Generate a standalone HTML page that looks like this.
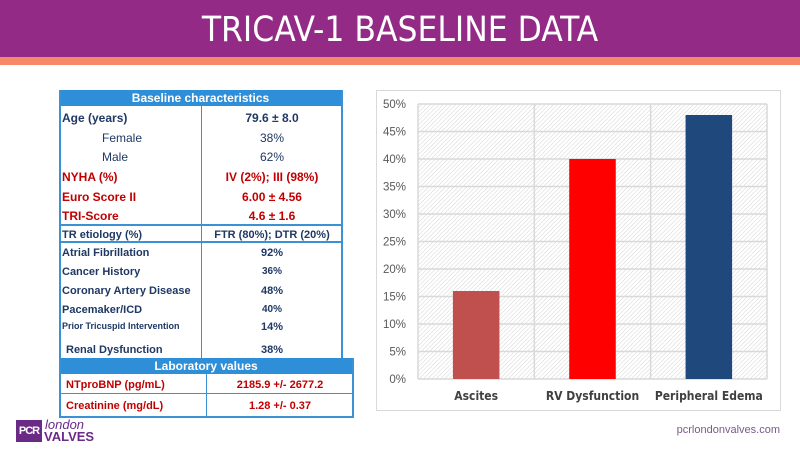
<!DOCTYPE html>
<html><head><meta charset="utf-8"><style>
body{margin:0;width:800px;height:450px;position:relative;background:#fff;font-family:"Liberation Sans",sans-serif;overflow:hidden}
.abs{position:absolute}
#hdr{left:0;top:0;width:800px;height:57px;background:#922A86}
#stripe{left:0;top:57px;width:800px;height:8px;background:#F68A68}
#title{left:0;top:2px;width:800px;height:57px;line-height:57px;text-align:center;color:#fff;font-size:35px;font-family:"DejaVu Sans Condensed","Liberation Sans Narrow","Liberation Sans",sans-serif}
.row{position:absolute;font-size:11px;font-weight:bold;color:#1F3864;white-space:nowrap}
.norm{font-weight:normal}
.v{position:absolute;font-size:11px;font-weight:bold;color:#1F3864;text-align:center;width:140px;left:202px}
.red{color:#C00000 !important}
.line{position:absolute;background:#3A92D6}
</style></head><body>
<div id="hdr" class="abs"></div>
<div id="stripe" class="abs"></div>
<div id="title" class="abs">TRICAV-1 BASELINE DATA</div>

<div>
<div class="abs" style="left:59px;top:90px;width:283px;height:16px;background:#2E8FD8;color:#fff;font-size:12px;font-weight:bold;text-align:center;line-height:16px">Baseline characteristics</div>
<div class="line" style="left:59px;top:90px;width:2px;height:268px"></div>
<div class="line" style="left:341px;top:90px;width:2px;height:268px"></div>
<div class="line" style="left:201px;top:106px;width:1px;height:252px"></div>
<div class="line" style="left:59px;top:224px;width:283px;height:2px"></div>
<div class="line" style="left:59px;top:241px;width:283px;height:2px"></div>

<div class="row" style="left:62px;top:111px;font-size:12px">Age (years)</div><div class="v" style="top:111px;font-size:12px">79.6 ± 8.0</div>
<div class="row norm" style="left:102px;top:131px;font-size:12px">Female</div><div class="v" style="top:131px;font-size:12px;font-weight:normal">38%</div>
<div class="row norm" style="left:102px;top:150px;font-size:12px">Male</div><div class="v" style="top:150px;font-size:12px;font-weight:normal">62%</div>
<div class="row red" style="left:62px;top:170px;font-size:12px">NYHA (%)</div><div class="v red" style="top:170px;font-size:12px">IV (2%); III (98%)</div>
<div class="row red" style="left:62px;top:190px;font-size:12px">Euro Score II</div><div class="v red" style="top:190px;font-size:12px">6.00 ± 4.56</div>
<div class="row red" style="left:62px;top:209px;font-size:12px">TRI-Score</div><div class="v red" style="top:209px;font-size:12px">4.6 ± 1.6</div>
<div class="row" style="left:62px;top:229px">TR etiology (%)</div><div class="v" style="top:229px">FTR (80%); DTR (20%)</div>
<div class="row" style="left:62px;top:247px">Atrial Fibrillation</div><div class="v" style="top:247px">92%</div>
<div class="row" style="left:62px;top:266px">Cancer History</div><div class="v" style="top:266px;font-size:10px">36%</div>
<div class="row" style="left:62px;top:285px">Coronary Artery Disease</div><div class="v" style="top:285px">48%</div>
<div class="row" style="left:62px;top:304px">Pacemaker/ICD</div><div class="v" style="top:304px;font-size:10px">40%</div>
<div class="row" style="left:62px;top:321px;font-size:9px">Prior Tricuspid Intervention</div><div class="v" style="top:321px">14%</div>
<div class="row" style="left:66px;top:344px">Renal Dysfunction</div><div class="v" style="top:344px">38%</div>

<div class="abs" style="left:59px;top:358px;width:294px;height:16px;background:#2E8FD8;color:#fff;font-size:12px;font-weight:bold;text-align:center;line-height:16px">Laboratory values</div>
<div class="line" style="left:59px;top:358px;width:2px;height:60px"></div>
<div class="line" style="left:352px;top:358px;width:2px;height:60px"></div>
<div class="line" style="left:206px;top:374px;width:1px;height:43px"></div>
<div class="line" style="left:59px;top:393px;width:294px;height:1px"></div>
<div class="line" style="left:59px;top:416px;width:295px;height:2px"></div>
<div class="row red" style="left:66px;top:379px">NTproBNP (pg/mL)</div><div class="v red" style="top:379px;left:207px;width:146px">2185.9 +/- 2677.2</div>
<div class="row red" style="left:66px;top:400px">Creatinine (mg/dL)</div><div class="v red" style="top:400px;left:207px;width:146px">1.28 +/- 0.37</div>
</div>

<div class="abs" style="left:376px;top:90px;width:403px;height:319px;border:1px solid #d9d9d9"></div>
<svg id="chart" class="abs" style="left:0;top:0" width="800" height="450">
<defs><pattern id="hatch" width="3" height="3" patternUnits="userSpaceOnUse" patternTransform="rotate(45)"><rect width="3" height="3" fill="#fff"/><line x1="0" y1="0" x2="0" y2="3" stroke="#d4d4d4" stroke-width="1"/></pattern></defs>
</svg>
<script>
const categories=["Ascites","RV Dysfunction","Peripheral Edema"];
const values=[16,40,48];
const colors=["#C0504D","#FF0000","#1F497D"];
const ticks=[0,5,10,15,20,25,30,35,40,45,50];
const svg=document.getElementById('chart');
const NS='http://www.w3.org/2000/svg';
const X0=418,X1=767,Y0=379,Y1=104,MAX=50;
const y=v=>Y0-(v/MAX)*(Y0-Y1);
const bw=(X1-X0)/categories.length;
const x=i=>X0+bw*i;
function mk(t,a){const e=document.createElementNS(NS,t);for(const k in a)e.setAttribute(k,a[k]);svg.appendChild(e);return e;}
let bg=mk('rect',{x:X0,y:Y1,width:X1-X0,height:Y0-Y1,fill:'url(#hatch)'});


ticks.forEach(t=>{
 let g=mk('line',{x1:X0,x2:X1,y1:y(t),y2:y(t),stroke:'#d9d9d9','stroke-width':1.5});
 
 
 let l=mk('text',{x:X0-12,y:y(t)+4,'text-anchor':'end','font-size':'11.5','fill':'#595959','font-family':'Liberation Sans, sans-serif'});
 l.textContent=t+'%';
 
 
});
for(let i=0;i<=categories.length;i++){
 let v=mk('line',{x1:x(i),x2:x(i),y1:Y1,y2:Y0,stroke:'#d9d9d9','stroke-width':1.5});
 
 
}
categories.forEach((c,i)=>{
 const w=bw*0.4,cx=x(i)+bw/2;
 let b=mk('rect',{x:cx-w/2,y:y(values[i]),width:w,height:Y0-y(values[i]),fill:colors[i]});
 
 
 let t=mk('text',{x:cx,y:400,'text-anchor':'middle','font-size':'12','font-weight':'bold','fill':'#404040','font-family':'DejaVu Sans Condensed, Liberation Sans, sans-serif'});
 t.textContent=c;
 
 
});
</script>

<div class="abs" style="left:16px;top:420px;width:26px;height:22px;background:#6B2A86;color:#fff;font-size:11px;font-weight:bold;line-height:22px;text-align:center;letter-spacing:-1px">PCR</div>
<div class="abs" style="left:45px;top:417px;font-size:13px;font-style:italic;color:#6B2A86">london</div>
<div class="abs" style="left:44px;top:429px;font-size:13px;font-weight:bold;color:#6B2A86">VALVES</div>
<div class="abs" style="left:640px;top:424px;width:140px;text-align:right;font-size:11px;color:#7a5a8a">pcrlondonvalves.com</div>
</body></html>
